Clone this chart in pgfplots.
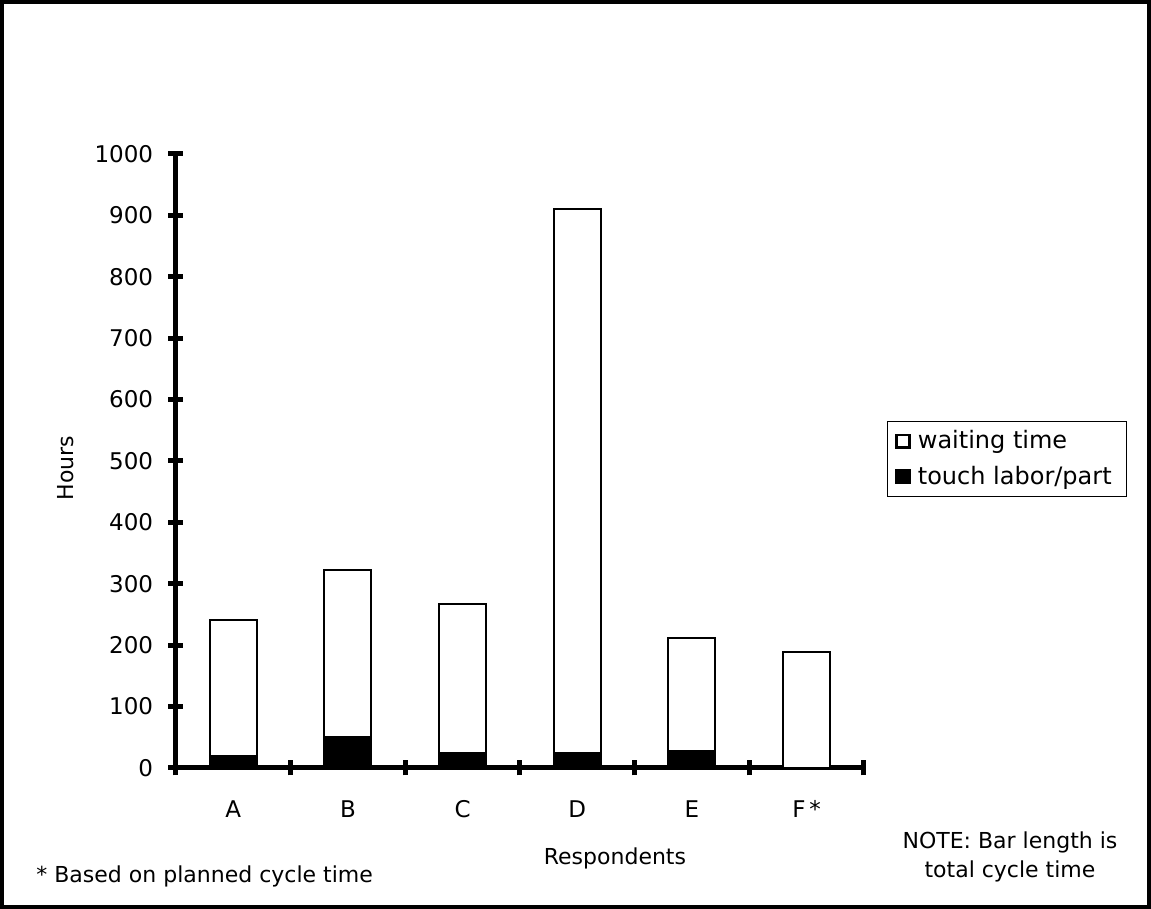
\documentclass[border=0pt]{standalone}
\usepackage{fontspec}
\setmainfont{DejaVu Sans}
\usepackage{pgfplots}
\pgfplotsset{compat=1.18}

\pgfplotstableread{
x touch waiting
0 20 221
1 50 273
2 25 242
3 25 885
4 28 183
5 0 189
}\cycletimes

\begin{document}
\fontsize{11}{13}\selectfont
\begin{tikzpicture}
\begin{axis}[
    scale only axis,
    width=344pt, height=307pt,
    xmin=-0.5, xmax=5.5,
    ymin=0, ymax=1000,
    axis x line*=bottom,
    axis y line*=left,
    axis line style={line width=2.5pt, -},
    ybar stacked,
    bar width=23.5pt,
    xtick={0,...,5},
    xticklabels={A,B,C,D,E,F\,*},
    minor xtick={-0.5,0.5,...,5.5},
    ytick={0,100,...,1000},
    tick align=center,
    major tick length=7.5pt,
    minor tick length=7.5pt,
    x tick style={draw=none},
    minor x tick style={draw=black, line width=2.5pt},
    y tick style={line width=2.5pt, black},
    /pgf/number format/assume math mode=true,
    /pgf/number format/1000 sep={},
    ticklabel style={font=\fontsize{11.5}{13}\selectfont},
    yticklabel style={anchor=east, inner sep=0pt, xshift=-7.5pt},
    xticklabel style={anchor=north, inner sep=0pt, yshift=-12.5pt},
    xlabel={Respondents},
    ylabel={Hours},
    every axis x label/.style={at={(axis description cs:0.638,-0.1466)}, anchor=center, font=\fontsize{11}{13}\selectfont},
    every axis y label/.style={at={(axis description cs:-0.16,0.4886)}, rotate=90, anchor=center, font=\fontsize{11}{13}\selectfont},
    legend style={at={(axis description cs:1.0334,0.5651)}, anchor=north west,
        draw=black, line width=0.5pt, inner xsep=4pt, inner ysep=2.5pt,
        row sep=3pt, font=\fontsize{12}{14}\selectfont,
        nodes={inner xsep=3.5pt},
        /tikz/every even column/.append style={column sep=0pt}},
    legend cell align=left,
    reverse legend,
    legend image code/.code={\draw[#1, line width=1.2pt] (0pt,-3.2pt) rectangle (6.5pt,3.2pt);},
]
\addplot[fill=black, draw=black, line width=1pt] table[x=x, y=touch] {\cycletimes};
\addlegendentry{touch labor/part}
\addplot[fill=white, draw=black, line width=1pt] table[x=x, y=waiting] {\cycletimes};
\addlegendentry{waiting time}
\end{axis}
\node[anchor=base west, inner sep=0pt] at (-70pt,-57.5pt) {* Based on planned cycle time};
\node[anchor=base, inner sep=0pt] at (417pt,-40.5pt) {NOTE: Bar length is};
\node[anchor=base, inner sep=0pt] at (417pt,-55pt) {total cycle time};
\draw[line width=2pt] (-87pt,-69.5pt) rectangle (486.5pt,383pt);
\end{tikzpicture}
\end{document}
